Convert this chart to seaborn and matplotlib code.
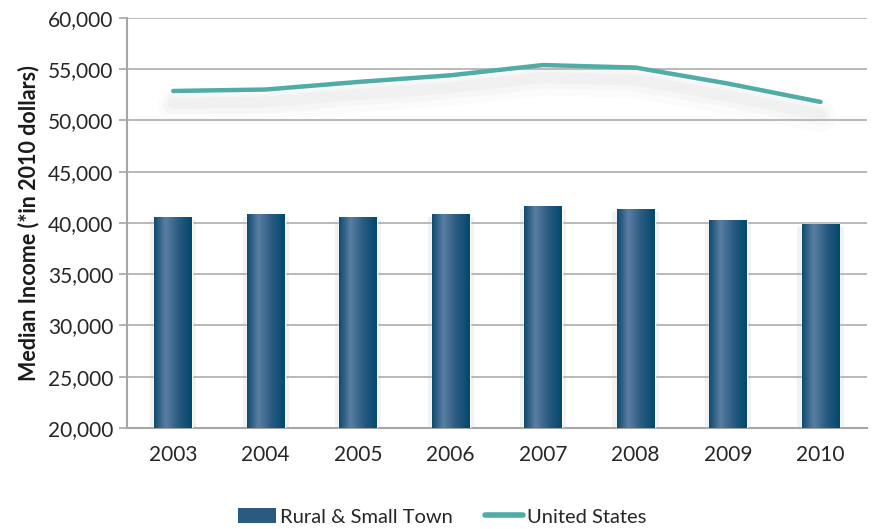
import numpy as np
import pandas as pd
import matplotlib
matplotlib.use("Agg")
import matplotlib.pyplot as plt
import matplotlib.patheffects as pe
from matplotlib.colors import LinearSegmentedColormap
from matplotlib.lines import Line2D
from matplotlib.patches import Patch
from matplotlib.ticker import FuncFormatter, FixedLocator
import seaborn as sns

years = ["2003", "2004", "2005", "2006", "2007", "2008", "2009", "2010"]
rural = [40580, 40850, 40580, 40850, 41660, 41330, 40260, 39900]
united_states = [52880, 53020, 53760, 54410, 55410, 55160, 53600, 51810]

df = pd.DataFrame({"year": years, "rural": rural, "us": united_states})
df["pos"] = np.arange(len(years))

sns.set_style("white")
plt.rcParams["font.family"] = ["Lato", "DejaVu Sans"]

fig = plt.figure(figsize=(8.72, 5.29), dpi=100)
ax = fig.add_axes([0.1456, 0.191, 0.8484, 0.775])

bar_cmap = LinearSegmentedColormap.from_list(
    "bar", [(0.0, "#0d4a6e"), (0.3, "#5a7ea2"), (0.65, "#2a5a80"), (1.0, "#00496d")])

sns.barplot(data=df, x="year", y="rural", color="#1f5478", width=0.41,
            ax=ax, zorder=3, saturation=1)

# gradient fill + soft shadow for each bar
grad = np.linspace(0, 1, 256).reshape(1, -1)
for p in ax.patches:
    x0, y0 = p.get_x(), p.get_y()
    w, h = p.get_width(), p.get_height()
    p.set_path_effects([pe.SimplePatchShadow(offset=(-3, -2), shadow_rgbFace="#b8b8c0", alpha=0.18),
                        pe.SimplePatchShadow(offset=(3, -2), shadow_rgbFace="#b8b8c0", alpha=0.18),
                        pe.Normal()])
    im = ax.imshow(grad, cmap=bar_cmap, aspect="auto", extent=(x0, x0 + w, 20000, y0 + h),
                   zorder=4)
    im.set_clip_path(p)

line_fx = [pe.SimpleLineShadow(offset=(0, -11), shadow_color="#c0c0c4", alpha=0.05, linewidth=22),
           pe.SimpleLineShadow(offset=(0, -10), shadow_color="#b8b8bc", alpha=0.07, linewidth=14),
           pe.SimpleLineShadow(offset=(0, -9), shadow_color="#b0b0b4", alpha=0.08, linewidth=8),
           pe.Normal()]
sns.lineplot(data=df, x="pos", y="us", color="#4fada6", linewidth=3.2, ax=ax,
             zorder=5, path_effects=line_fx)

ax.set_ylim(20000, 60000)
ax.set_xlim(-0.5, len(years) - 0.5)
ax.yaxis.set_major_locator(FixedLocator(np.arange(20000, 60001, 5000)))
ax.yaxis.set_major_formatter(FuncFormatter(lambda v, _: f"{int(v):,}"))
ax.grid(axis="y", color="#b3b3b3", linewidth=1.3, zorder=0)
ax.set_axisbelow(True)

ax.set_xticks(np.arange(len(years)))
ax.set_xticklabels(years)
ax.set_xticks(np.arange(len(years) + 1) - 0.5, minor=True)
ax.tick_params(axis="x", which="major", length=0, pad=12, labelsize=15, labelcolor="#262626")
ax.tick_params(axis="x", which="minor", length=7, width=1.2, color="#a6a6a6", direction="out")
ax.tick_params(axis="y", length=6, width=1.2, color="#a6a6a6", direction="out",
               labelsize=15, labelcolor="#262626", pad=4, left=True)

for s in ["top", "right"]:
    ax.spines[s].set_visible(False)
for s in ["left", "bottom"]:
    ax.spines[s].set_color("#a6a6a6")
    ax.spines[s].set_linewidth(1.5)

ax.set_xlabel("")
ax.set_ylabel("Median Income (*in 2010 dollars)", fontsize=15.5, fontweight="bold",
              color="#1a1a1a", labelpad=6)

handles = [Patch(facecolor="#2a5a80", edgecolor="none"),
           Line2D([0], [0], color="#4fada6", linewidth=4)]
fig.legend(handles, ["Rural & Small Town", "United States"], loc="center",
           bbox_to_anchor=(0.507, 0.023), ncol=2, frameon=False, fontsize=14.5,
           handlelength=1.9, handleheight=0.75, columnspacing=1.6, handletextpad=0.2,
           labelcolor="#262626")

fig.savefig("out.png", dpi=100)
